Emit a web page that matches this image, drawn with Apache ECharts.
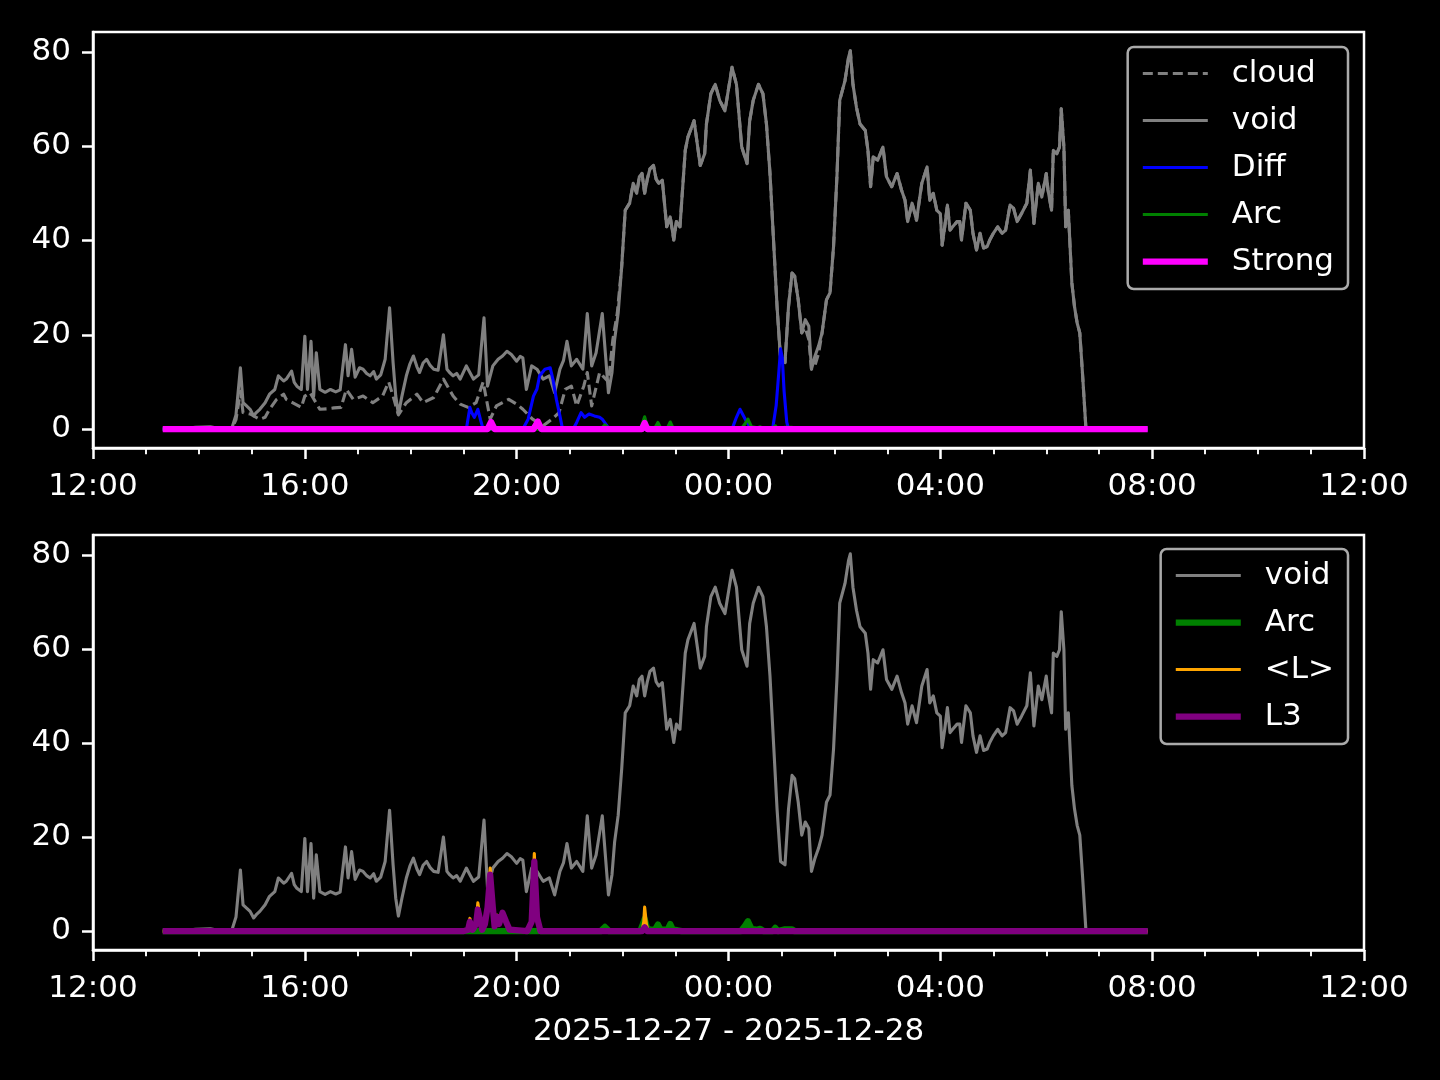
<!DOCTYPE html>
<html><head><meta charset="utf-8">
<script src="https://cdn.jsdelivr.net/npm/echarts@6/dist/echarts.min.js"></script>
<style>html,body{margin:0;background:#000}#c{width:1440px;height:1080px}</style>
</head><body><div id="c"></div>
<script>
// ---------- data (times as HH:MM, 2025-12-27 12:00 -> 2025-12-28 12:00) ----------
const xTickLabels = ['12:00','16:00','20:00','00:00','04:00','08:00','12:00'];
const yTicks = [0,20,40,60,80];
const xTitle = '2025-12-27 - 2025-12-28';

const voidT = ["13:19","13:39","13:56","14:13","14:26","14:37","14:42","14:47","14:50","14:54","14:58","15:02","15:05","15:09","15:15","15:20","15:26","15:30","15:36","15:39","15:45","15:48","15:51","15:56","16:00","16:03","16:07","16:10","16:13","16:17","16:23","16:29","16:35","16:40","16:46","16:49","16:53","16:57","17:02","17:06","17:10","17:14","17:18","17:21","17:26","17:31","17:36","17:40","17:43","17:46","17:50","17:55","17:59","18:03","18:07","18:10","18:14","18:18","18:22","18:26","18:31","18:37","18:41","18:44","18:48","18:52","18:56","19:03","19:07","19:11","19:17","19:23","19:27","19:33","19:39","19:44","19:49","19:54","20:00","20:04","20:07","20:11","20:17","20:23","20:30","20:37","20:43","20:49","20:53","20:57","21:02","21:08","21:15","21:20","21:25","21:30","21:37","21:44","21:48","21:51","21:55","21:59","22:03","22:08","22:12","22:16","22:19","22:22","22:25","22:28","22:31","22:35","22:38","22:41","22:45","22:50","22:54","22:58","23:01","23:05","23:11","23:14","23:21","23:28","23:33","23:35","23:40","23:45","23:50","23:56","00:04","00:09","00:15","00:21","00:24","00:28","00:34","00:39","00:43","00:47","00:51","00:55","00:59","01:04","01:08","01:12","01:15","01:19","01:23","01:27","01:31","01:34","01:38","01:42","01:46","01:51","01:55","01:59","02:03","02:06","02:12","02:16","02:18","02:21","02:25","02:29","02:35","02:38","02:41","02:44","02:49","02:55","02:59","03:05","03:11","03:16","03:20","03:23","03:28","03:33","03:39","03:45","03:48","03:52","03:56","04:00","04:02","04:05","04:08","04:11","04:14","04:19","04:22","04:24","04:29","04:34","04:37","04:41","04:45","04:49","04:53","04:56","05:00","05:05","05:10","05:14","05:19","05:23","05:27","05:32","05:38","05:42","05:46","05:51","05:55","06:00","06:02","06:06","06:08","06:12","06:15","06:17","06:20","06:22","06:25","06:29","06:32","06:35","06:38","06:41","06:45"];
const voidV = [0,0,0.4,0.5,0,0,3,13,5.6,4.9,4.2,2.8,3.5,4.2,5.6,7.4,8.4,11.3,10.2,10.6,12.3,9.9,9.1,8.4,19.7,8.4,18.6,7,16.2,8.4,7.8,8.4,7.9,8.3,17.9,11.3,16.9,11,13,12.7,11.8,11.3,12.2,10.6,11.5,14.8,25.7,14.1,7,3.2,7,11.3,13.8,15.5,13.2,12,14,14.8,13.5,12.7,12.5,20,12.7,12,11.3,11.8,10.6,13.4,12,10.6,11.5,23.6,9.1,13.4,14.8,15.5,16.5,15.8,14.4,15.4,15.1,8.4,13.4,12.7,10.6,11.3,7.7,12.7,14.5,18.6,13.4,14.8,12.7,24.5,13.4,16.2,24.5,7.7,12,19,24.6,34.5,46.4,47.9,52.1,50,53.5,54.2,50,53,55.2,55.9,53,52.1,52.8,42.9,45,40.1,44,42.9,59.1,61.9,65.4,55.9,58.4,64.7,71.1,73.1,69.7,67.5,76.7,73.1,59.8,56.3,65.4,69.7,73.1,71.1,64.7,54.2,40.1,26,14.8,14.1,26,33.1,32.4,27.4,20.4,23.2,21.8,12.7,15.5,17.6,20.4,27.4,28.9,38.7,54.2,69.7,73.9,78.8,80.2,73.1,68.2,64.7,63.3,59.1,51.4,57.7,57,59.8,53.5,51.4,54.2,50.7,48.5,44,47.9,44.3,52.1,55.6,48.5,50,46.4,45.7,39,42.9,47.5,42.2,42.9,44,44,40.1,47.9,46.4,41.5,38,41.5,38.4,38.7,40.1,41.5,42.9,41.5,42.2,47.5,46.8,44,45.7,47.9,54.9,43.6,52.1,49.2,54.2,50.7,46.4,59.1,58.4,59.8,67.9,59.8,42.9,46.4,31,26,22.5,20.4,12,0];

const cloudT = ["13:19","14:37","14:42","14:47","14:50","14:58","15:09","15:15","15:20","15:28","15:36","15:39","15:46","15:56","16:00","16:06","16:17","16:25","16:33","16:41","16:47","16:55","17:06","17:17","17:28","17:35","17:40","17:46","17:55","18:07","18:14","18:26","18:37","18:48","18:56","19:05","19:14","19:22","19:30","19:37","19:44","19:51","20:00","20:07","20:18","20:30","20:40","20:48","20:55","21:02","21:08","21:16","21:20","21:25","21:34","21:44","21:49","21:54","21:59","22:03","22:08","22:12","22:16","22:19","22:22","22:25","22:28","22:31","22:35","22:38","22:41","22:45","22:50","22:54","22:58","23:01","23:05","23:11","23:14","23:21","23:28","23:33","23:35","23:40","23:45","23:50","23:56","00:04","00:09","00:15","00:21","00:24","00:28","00:34","00:39","00:43","00:47","00:51","00:55","00:59","01:04","01:08","01:12","01:15","01:19","01:23","01:27","01:31","01:34","01:38","01:42","01:46","01:51","01:55","01:59","02:03","02:06","02:12","02:16","02:18","02:21","02:25","02:29","02:35","02:38","02:41","02:44","02:49","02:55","02:59","03:05","03:11","03:16","03:20","03:23","03:28","03:33","03:39","03:45","03:48","03:52","03:56","04:00","04:02","04:05","04:08","04:11","04:14","04:19","04:22","04:24","04:29","04:34","04:37","04:41","04:45","04:49","04:53","04:56","05:00","05:05","05:10","05:14","05:19","05:23","05:27","05:32","05:38","05:42","05:46","05:51","05:55","06:00","06:02","06:06","06:08","06:12","06:15","06:17","06:20","06:22","06:25","06:29","06:32","06:35","06:38","06:41","06:45"];
const cloudV = [0,0,2,8,3.5,3.2,2.1,2.5,4.2,6.3,7.4,6.3,5.6,4.6,7,7.7,4.2,4.3,4.5,4.6,8.4,6.3,7,5.6,7,10,7,3,5.6,7.4,5.6,6.7,10.6,7,5.3,4.6,5.6,10,2.1,4.9,5.6,6.3,5.3,4.2,2.1,0.7,2.1,3.5,8.4,9.1,4.9,9.1,12,4.9,12,10,19,24.6,34.5,46.4,47.9,52.1,50,53.5,54.2,50,53,55.2,55.9,53,52.1,52.8,42.9,45,40.1,44,42.9,59.1,61.9,65.4,55.9,58.4,64.7,71.1,73.1,69.7,67.5,76.7,73.1,59.8,56.3,65.4,69.7,73.1,71.1,64.7,54.2,40.1,26,14.8,14.1,26,33.1,32.4,27.4,20.4,21.5,19,12.7,13.5,16,20.4,27.4,28.9,38.7,54.2,69.7,73.9,78.8,80.2,73.1,68.2,64.7,63.3,59.1,51.4,57.7,57,59.8,53.5,51.4,54.2,50.7,48.5,44,47.9,44.3,52.1,55.6,48.5,50,46.4,45.7,39,42.9,47.5,42.2,42.9,44,44,40.1,47.9,46.4,41.5,38,41.5,38.4,38.7,40.1,41.5,42.9,41.5,42.2,47.5,46.8,44,45.7,47.9,54.9,43.6,52.1,49.2,54.2,50.7,46.4,59.1,58.4,59.8,67.9,59.8,42.9,46.4,31,26,22.5,20.4,12,0];

const diffT = ["13:19","19:03","19:07","19:09","19:12","19:16","19:19","19:22","20:07","20:13","20:19","20:23","20:26","20:32","20:38","20:41","20:45","20:49","20:52","21:04","21:08","21:13","21:17","21:22","21:28","21:34","21:37","21:43","21:45","00:04","00:09","00:13","00:19","00:24","00:28","00:50","00:54","00:57","00:59","01:01","01:03","01:06","01:08","07:55"];
const diffV = [0,0,4.6,3.5,2.5,4.2,2,0,0,2.1,7,8.5,11.3,12.7,13,10.6,6.3,2.8,0,0,1.4,3.5,2.5,3.2,2.8,2.5,2.1,0.5,0,0,2.5,4.2,2.1,0.5,0,0,5,12,17,15,8,1.5,0,0];

const arcT = ["13:19","21:35","21:40","21:45","22:20","22:23","22:25","22:28","22:33","22:37","22:40","22:43","22:51","22:54","22:57","23:02","23:07","00:14","00:19","00:22","00:26","00:33","00:36","00:40","00:50","00:53","00:56","01:04","01:12","01:15","07:55"];
const arcV = [0,0,0.9,0,0,1.5,2.6,0.5,0.3,0.4,1.4,0.3,0.3,1.5,0.3,0.2,0,0,1.2,2.1,0.5,0.3,0.5,0,0,0.7,0,0.4,0.4,0,0];

const strongT = ["13:19","19:27","19:31","19:35","20:19","20:24","20:28","22:22","22:25","22:28","07:55"];
const strongV = [0,0,1.5,0,0,1.6,0,0,1.3,0,0];

const lT = ["13:19","19:00","19:05","19:07","19:10","19:14","19:16","19:19","19:21","19:24","19:27","19:30","19:33","19:35","19:38","19:40","19:44","19:48","19:52","20:12","20:17","20:20","20:23","20:27","22:22","22:24","22:25","22:27","22:29","07:55"];
const lV = [0,0,0.4,2.7,0.4,1.8,6.0,2.2,0.4,1.6,5.5,13.4,5.5,1.2,3.4,1.6,4.0,2.1,0.3,0,2.2,16.5,3.3,0,0,2,5.1,1.5,0,0];

const l3T = ["13:19","19:00","19:05","19:07","19:10","19:14","19:16","19:19","19:21","19:24","19:27","19:30","19:33","19:35","19:38","19:40","19:44","19:48","19:52","20:12","20:17","20:20","20:23","20:27","22:22","22:25","22:28","07:55"];
const l3V = [0,0,0.3,2.0,0.3,1.5,4.6,2,0.3,1.5,5,12,5,1,3,1.5,3.9,2,0.3,0,2,14.8,3,0,0,0.8,0,0];

// ---------- helpers ----------
function toH(s){const p=s.split(':').map(Number);let v=p[0]+p[1]/60;if(v<12)v+=24;return v;}
function pairs(T,V){return T.map((t,i)=>[toH(t),V[i]]);}
const FONT='DejaVu Sans';
const W='#ffffff';
const FS=31;

function xAxis(idx, withName){
  return {type:'value',gridIndex:idx,min:12,max:36,interval:4,
    axisLine:{show:true,onZero:false,lineStyle:{color:W,width:2.5}},
    axisTick:{show:true,length:11,lineStyle:{color:W,width:2.5}},
    minorTick:{show:true,splitNumber:4,length:6.25,lineStyle:{color:W,width:1.9}},
    axisLabel:{color:W,fontSize:FS,fontFamily:FONT,margin:23,
      formatter:v=>xTickLabels[Math.round((v-12)/4)]||''},
    splitLine:{show:false},minorSplitLine:{show:false},
    name:withName?xTitle:'',nameLocation:'middle',nameGap:66,
    nameTextStyle:{color:W,fontSize:FS,fontFamily:FONT}};
}
function yAxis(idx){
  return {type:'value',gridIndex:idx,min:-4.01,max:84.2,
    axisLine:{show:true,onZero:false,lineStyle:{color:W,width:2.5}},
    axisTick:{show:true,length:11,customValues:yTicks,lineStyle:{color:W,width:2.5}},
    axisLabel:{color:W,fontSize:FS,fontFamily:FONT,margin:22,customValues:yTicks},
    splitLine:{show:false}};
}
function line(name,ax,T,V,color,width,type){
  return {type:'line',name:name,xAxisIndex:ax,yAxisIndex:ax,data:pairs(T,V),
    symbol:'none',showSymbol:false,color:color,animation:false,silent:true,
    lineStyle:{color:color,width:width,type:type||'solid',cap:'butt',join:'round'},
    itemStyle:{color:color}};
}
const legendBase={orient:'vertical',itemWidth:65,itemHeight:14,itemGap:16,
  padding:[11,14,12,12],borderColor:'#aaaaaa',borderWidth:2.5,borderRadius:6,
  backgroundColor:'rgba(0,0,0,0.8)',selectedMode:false,
  itemStyle:{opacity:0,borderWidth:0},
  lineStyle:{width:'inherit',type:'inherit',color:'inherit'},
  textStyle:{color:W,fontSize:FS,fontFamily:FONT,lineHeight:31,padding:[0,0,0,19]}};

const chart=echarts.init(document.getElementById('c'),null,{renderer:'canvas'});
chart.setOption({
  backgroundColor:'#000',animation:false,
  grid:[{left:93,right:76,top:32,height:416,show:true,borderColor:W,borderWidth:2.5,backgroundColor:'#000'},
        {left:93,right:76,top:535,height:415,show:true,borderColor:W,borderWidth:2.5,backgroundColor:'#000'}],
  xAxis:[xAxis(0,false),xAxis(1,true)],
  yAxis:[yAxis(0),yAxis(1)],
  legend:[Object.assign({},legendBase,{right:92,top:47,data:['cloud','void','Diff','Arc','Strong']}),
          Object.assign({},legendBase,{right:92,top:549,data:['void ','Arc ','<L>','L3'],formatter:n=>n.trim()})],
  series:[
    line('cloud',0,cloudT,cloudV,'#808080',3.1,[10,5]),
    line('void',0,voidT,voidV,'#808080',3.1),
    line('Diff',0,diffT,diffV,'#0000ff',3.1),
    line('Arc',0,arcT,arcV,'#008000',3.1),
    line('Strong',0,strongT,strongV,'#ff00ff',6.25),
    line('void ',1,voidT,voidV,'#808080',3.1),
    line('Arc ',1,arcT,arcV,'#008000',6.25),
    line('<L>',1,lT,lV,'#ffa500',3.1),
    line('L3',1,l3T,l3V,'#800080',6.25)
  ]
});
</script></body></html>
